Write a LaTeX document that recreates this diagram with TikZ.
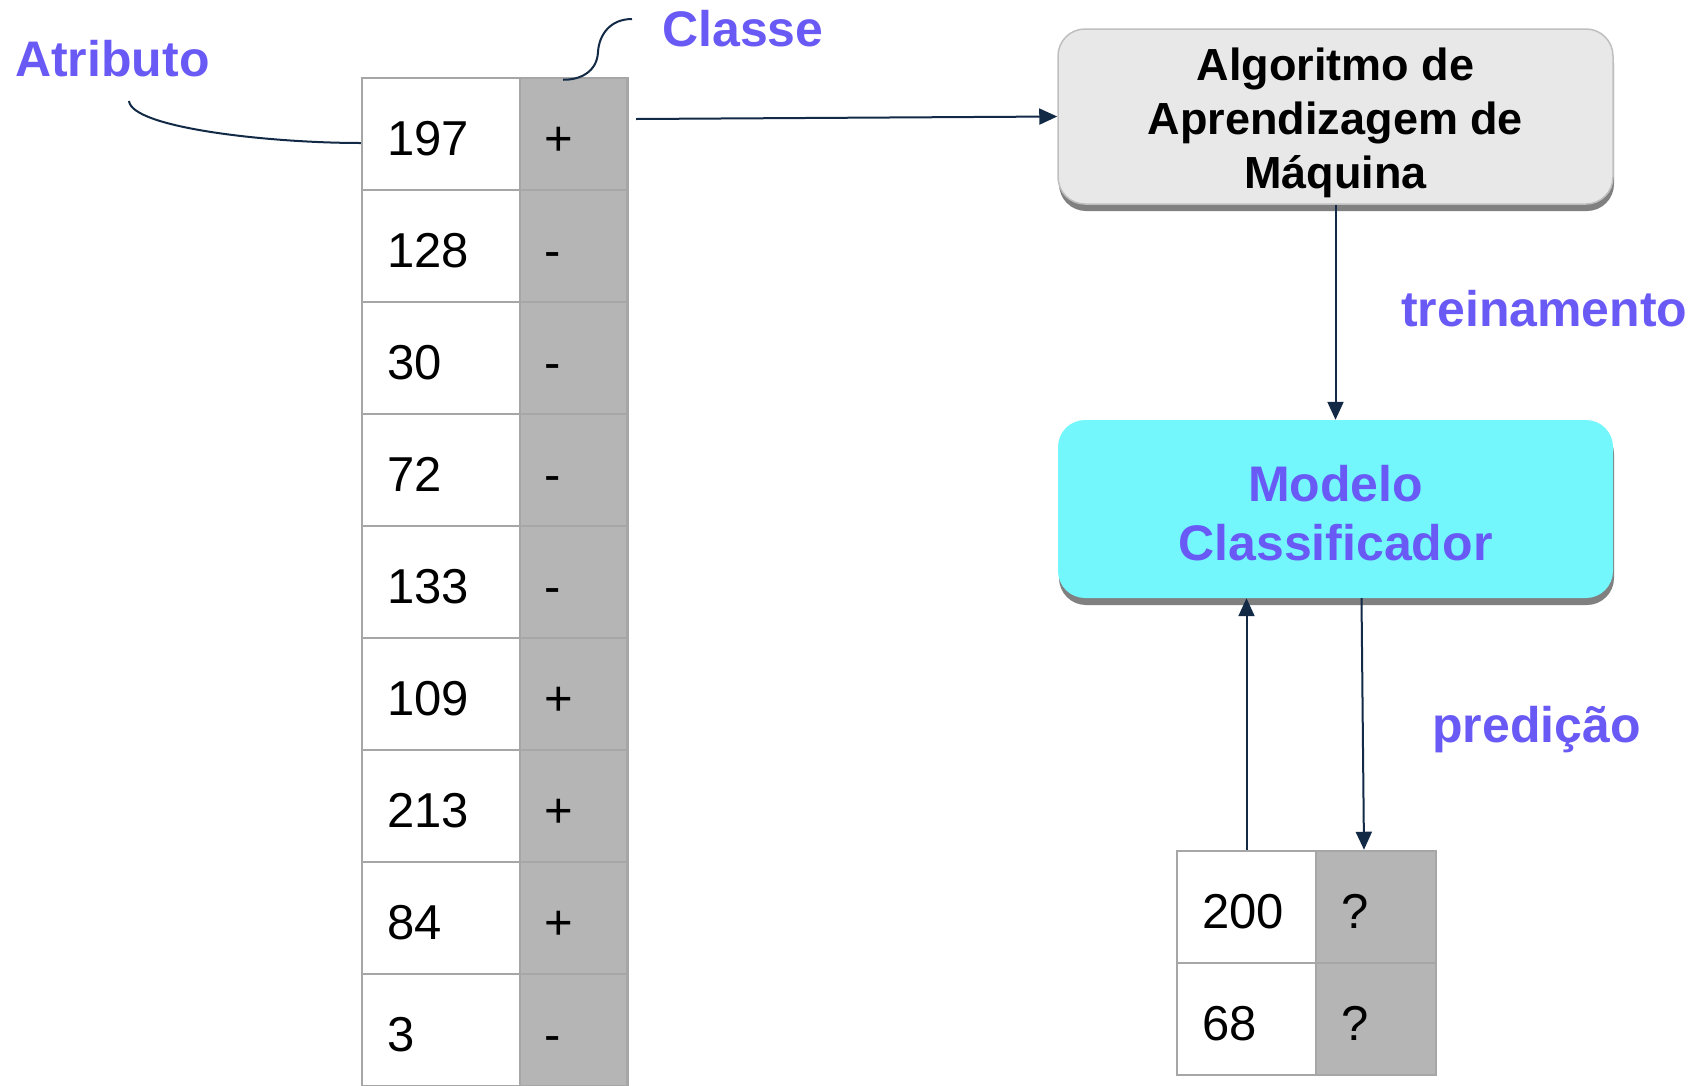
\documentclass[tikz,border=0pt]{standalone}
\usepackage{fontspec}
\setmainfont{Liberation Sans}
\usetikzlibrary{arrows.meta,shadows}
\definecolor{violeta}{RGB}{105,90,245}
\definecolor{ciano}{RGB}{116,247,252}
\definecolor{cinzaclaro}{RGB}{232,232,232}
\definecolor{cinzacel}{RGB}{181,181,181}
\definecolor{bordacel}{RGB}{166,166,166}
\definecolor{sombra}{RGB}{128,128,128}
\definecolor{marinho}{RGB}{18,42,70}
\tikzset{%
  cell/.style      = {shape=rectangle, draw=bordacel, line width=2.5pt,%
                      minimum height=112pt, inner xsep=25pt, inner ysep=0pt,%
                      text height=43pt, text depth=0pt,%
                      align=left, font=\fontsize{49}{58}\selectfont},%
  attcell/.style   = {cell, fill=white, minimum width=158pt, text width=108pt},%
  classcell/.style = {cell, fill=cinzacel, minimum width=107.5pt, text width=57.5pt},%
  newcell/.style   = {cell, fill=white, minimum width=139pt, text width=89pt},%
  askcell/.style   = {cell, fill=cinzacel, minimum width=120pt, text width=70pt},%
  procbox/.style   = {shape=rectangle, rounded corners=27pt, align=center,%
                      minimum width=555pt,%
                      drop shadow={shadow xshift=1pt, shadow yshift=-7pt,%
                                   fill=sombra, opacity=1}},%
  algo/.style      = {procbox, fill=cinzaclaro, draw=black!25, line width=1.5pt,%
                      minimum height=175pt, font=\bfseries\fontsize{45}{54}\selectfont},%
  model/.style     = {procbox, fill=ciano, minimum height=178pt, text=violeta,%
                      font=\bfseries\fontsize{50}{59.5}\selectfont},%
  tag/.style       = {inner sep=0pt, anchor=west, text=violeta,%
                      font=\bfseries\fontsize{50}{60}\selectfont},%
  flow/.style      = {draw=marinho, line width=2pt, -{Triangle[length=18pt,width=16pt]}},%
  lead/.style      = {draw=marinho, line width=2pt}%
}
\begin{document}
\begin{tikzpicture}[x=1pt,y=-1pt]%
	\useasboundingbox (0,0) rectangle (1695,1085);
	\clip (0,0) rectangle (1695,1085);
	% training set
	\node [attcell] (a1) at (441,134) {197};%
	\node [classcell] (c1) at (573.5,134) {+};%
	\node [attcell] (a2) at (441,246) {128};%
	\node [classcell] (c2) at (573.5,246) {-};%
	\node [attcell] (a3) at (441,358) {30};%
	\node [classcell] (c3) at (573.5,358) {-};%
	\node [attcell] (a4) at (441,470) {72};%
	\node [classcell] (c4) at (573.5,470) {-};%
	\node [attcell] (a5) at (441,582) {133};%
	\node [classcell] (c5) at (573.5,582) {-};%
	\node [attcell] (a6) at (441,694) {109};%
	\node [classcell] (c6) at (573.5,694) {+};%
	\node [attcell] (a7) at (441,806) {213};%
	\node [classcell] (c7) at (573.5,806) {+};%
	\node [attcell] (a8) at (441,918) {84};%
	\node [classcell] (c8) at (573.5,918) {+};%
	\node [attcell] (a9) at (441,1030) {3};%
	\node [classcell] (c9) at (573.5,1030) {-};%
	% new instances
	\node [newcell] (d1) at (1246.5,907) {200};%
	\node [askcell] (q1) at (1376,907) {?};%
	\node [newcell] (d2) at (1246.5,1019) {68};%
	\node [askcell] (q2) at (1376,1019) {?};%
	% boxes
	\node [algo] (alg) at (1335.5,116.5) {\rule{0pt}{45pt}Algoritmo de\\Aprendizagem de\\Máquina};%
	\node [model] (mod) at (1335.5,509) {\rule{0pt}{44pt}Modelo\\Classificador};%
	% labels
	\node [tag] (atributo) at (15,59) {Atributo};%
	\node [tag] (classe) at (662,29) {Classe};%
	\node [tag] (treino) at (1401,309) {treinamento};%
	\node [tag] (pred) at (1432,730) {predição};%
	% connectors
	\coordinate (pa) at (129,101);
	\coordinate (pc) at (632,19);
	\coordinate (inicio) at (636,119);
	\draw [lead] (pa) .. controls (132,128) and (270,143) .. ([yshift=-9pt]a1.west);
	\draw [lead] (pc) .. controls (610,19) and (599,35) .. (598,52)%
		.. controls (597,72) and (580,80) .. ([xshift=-10.5pt,yshift=-3pt]c1.north);
	\draw [flow] (inicio) -- (alg.west);
	\draw [flow] (alg.south) -- (mod.north);
	\draw [flow] (d1.north) -- (d1.north |- mod.south);
	\draw [flow] ([xshift=26pt]mod.south) -- ([xshift=-12pt]q1.north);
\end{tikzpicture}
\end{document}
